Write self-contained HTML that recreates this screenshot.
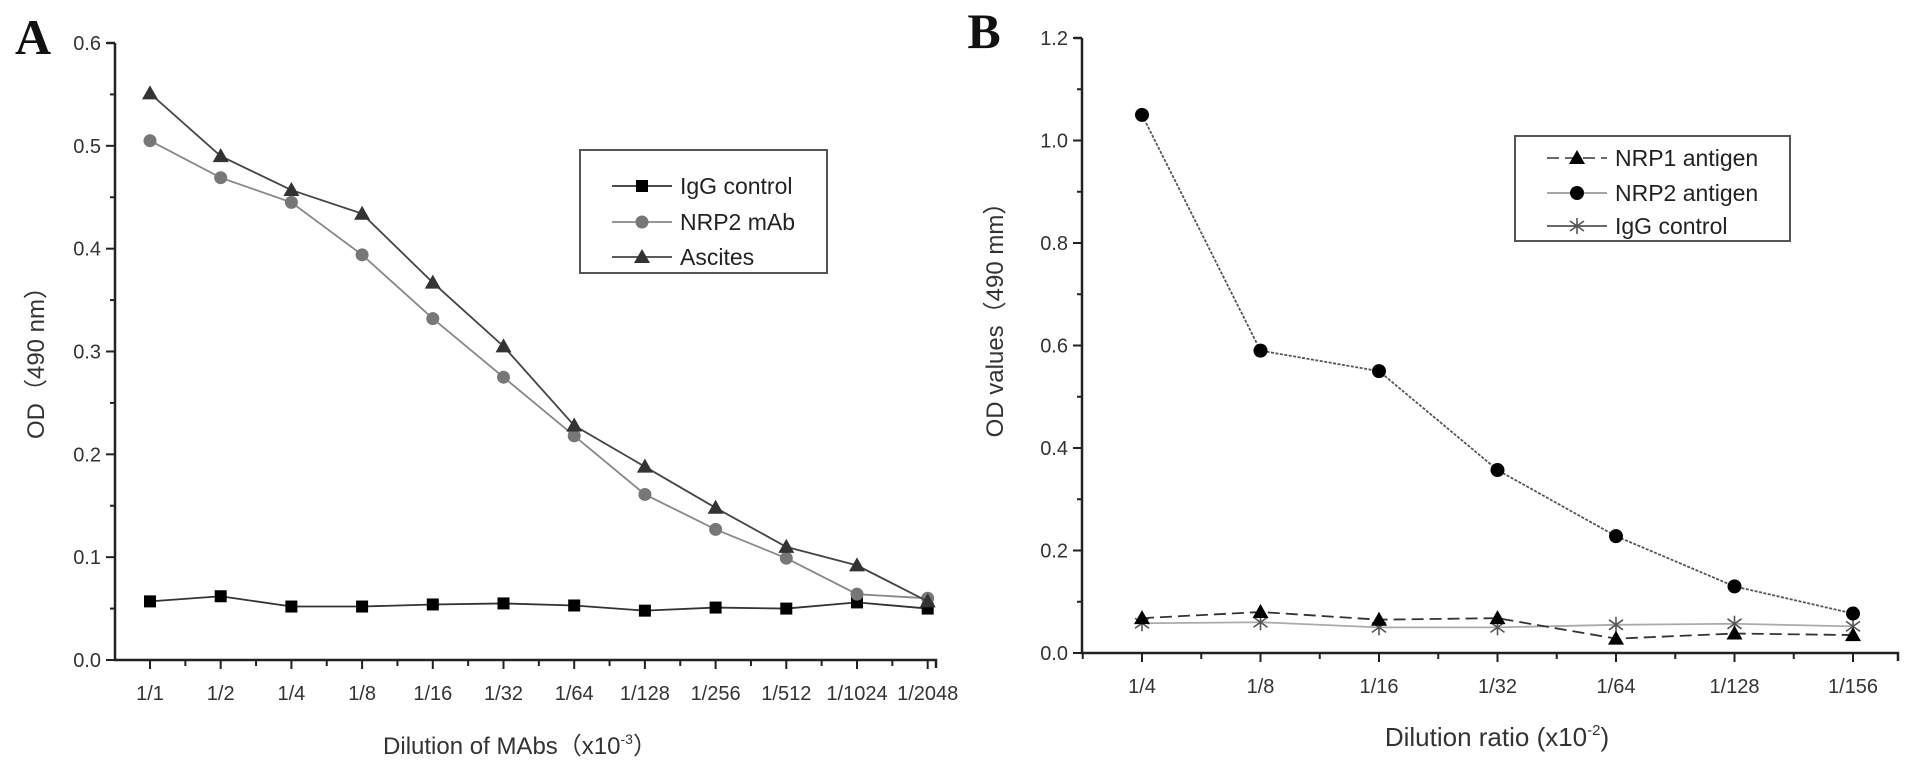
<!DOCTYPE html>
<html><head><meta charset="utf-8"><style>
html,body{margin:0;padding:0;background:#fff;}
svg{display:block;font-family:"Liberation Sans","Noto Sans CJK SC",sans-serif;}
</style></head><body>
<svg id="fig" width="1913" height="767" viewBox="0 0 1913 767">
<text x="33" y="54" font-family="Liberation Serif,serif" font-weight="bold" font-size="50" text-anchor="middle" fill="#111">A</text>
<text x="984" y="48" font-family="Liberation Serif,serif" font-weight="bold" font-size="50" text-anchor="middle" fill="#111">B</text>
<g id="chartA"></g>
<g id="chartB"></g>
</svg>
<script>
const catsA = ["1/1","1/2","1/4","1/8","1/16","1/32","1/64","1/128","1/256","1/512","1/1024","1/2048"];
const iggA = [0.057,0.062,0.052,0.052,0.054,0.055,0.053,0.048,0.051,0.050,0.056,0.050];
const nrp2mAb = [0.505,0.469,0.445,0.394,0.332,0.275,0.218,0.161,0.127,0.099,0.064,0.060];
const ascites = [0.551,0.490,0.457,0.434,0.367,0.305,0.228,0.188,0.148,0.110,0.092,0.057];
const ticksA = ["0.0","0.1","0.2","0.3","0.4","0.5","0.6"];

const catsB = ["1/4","1/8","1/16","1/32","1/64","1/128","1/156"];
const nrp1B = [0.068,0.080,0.065,0.068,0.028,0.038,0.035];
const nrp2B = [1.050,0.590,0.550,0.357,0.228,0.130,0.077];
const iggB = [0.058,0.060,0.050,0.050,0.055,0.057,0.052];
const ticksB = ["0.0","0.2","0.4","0.6","0.8","1.0","1.2"];

const NS="http://www.w3.org/2000/svg";
function mk(parent,tag,attrs){const e=document.createElementNS(NS,tag);for(const k in attrs)e.setAttribute(k,attrs[k]);parent.appendChild(e);return e;}

function axes(g,cfg){
  const {x0,x1,yTop,yBot,vmax,cats,ticks,firstX,step}=cfg;
  const ys=v=>yBot-(v/vmax)*(yBot-yTop);
  const xs=i=>firstX+i*step;
  const ax=mk(g,'path',{d:`M${x0} ${yTop}H${x0-8}M${x0} ${yTop}V${yBot}H${x1}V${yBot+8}`,stroke:'#222','stroke-width':2.5,fill:'none'});
  
  
  const tv=ticks.map(Number), n=tv.length;
  for(let i=0;i<n;i++){
    const y=ys(tv[i]);
    const t=mk(g,'line',{x1:x0-9,x2:x0,y1:y,y2:y,stroke:'#222','stroke-width':2});
    
    
    if(i<n-1){const ym=ys((tv[i]+tv[i+1])/2);const m=mk(g,'line',{x1:x0-5,x2:x0,y1:ym,y2:ym,stroke:'#222','stroke-width':2});}
    const l=mk(g,'text',{x:x0-14,y:y+7,'text-anchor':'end','font-size':20,fill:'#333'});
    l.textContent=ticks[i];
    
    
  }
  for(let i=0;i<cats.length;i++){
    const x=xs(i);
    const t=mk(g,'line',{x1:x,x2:x,y1:yBot,y2:yBot+9,stroke:'#222','stroke-width':2});
    
    
    const xm=x-step/2;
    if(xm>x0){const m=mk(g,'line',{x1:xm,x2:xm,y1:yBot,y2:yBot+6,stroke:'#222','stroke-width':2});}
    const l=mk(g,'text',{x:x,y:yBot+40,'text-anchor':'middle','font-size':20,fill:'#333'});
    l.textContent=cats[i];
    
    
  }
  return {xs,ys};
}
function marker(g,type,x,y,color,name){
  let e;
  if(type==='sq') e=mk(g,'rect',{x:x-6,y:y-6,width:12,height:12,fill:color});
  else if(type==='ci') e=mk(g,'circle',{cx:x,cy:y,r:type==='ci'?6.5:6,fill:color});
  else if(type==='ci2') e=mk(g,'circle',{cx:x,cy:y,r:7,fill:color});
  else if(type==='tri') e=mk(g,'path',{d:`M${x} ${y-8}L${x+8} ${y+6}L${x-8} ${y+6}Z`,fill:color});
  else if(type==='star') e=mk(g,'path',{d:`M${x} ${y-8}V${y+8}M${x-7} ${y-5}L${x+7} ${y+5}M${x-7} ${y+5}L${x+7} ${y-5}`,stroke:color,'stroke-width':1.6,fill:'none'});
  
  
}
function series(g,sc,vals,color,lineColor,type,dash,name){
  const d=vals.map((v,i)=>(i?'L':'M')+sc.xs(i)+' '+sc.ys(v)).join('');
  const p=mk(g,'path',{d:d,stroke:lineColor,'stroke-width':1.8,fill:'none'});
  if(dash)p.setAttribute('stroke-dasharray',dash);
  
  
  vals.forEach((v,i)=>marker(g,type,sc.xs(i),sc.ys(v),color,name+'-point'));
}
function legend(g,x,y,w,h,items,rowYs){
  const r=mk(g,'rect',{x:x,y:y,width:w,height:h,fill:'#fff',stroke:'#555','stroke-width':2});
  
  
  items.forEach((it,i)=>{
    const yy=rowYs[i];
    const l=mk(g,'line',{x1:x+32,x2:x+92,y1:yy,y2:yy,stroke:it.line,'stroke-width':1.8});
    if(it.dash)l.setAttribute('stroke-dasharray',it.dash);
    
    
    marker(g,it.type,x+62,yy,it.color,'legend-marker');
    const t=mk(g,'text',{x:x+100,y:yy+8,'font-size':23,fill:'#222'});
    t.textContent=it.label;
    
    
  });
}
// Chart A
const gA=document.getElementById('chartA');
const scA=axes(gA,{x0:115,x1:936,yTop:43,yBot:660,vmax:0.6,cats:catsA,ticks:ticksA,firstX:150,step:70.7});
series(gA,scA,iggA,'#000','#333','sq',null,'igg-control');
series(gA,scA,nrp2mAb,'#777','#888','ci',null,'nrp2-mab');
series(gA,scA,ascites,'#333','#444','tri',null,'ascites');
legend(gA,580,150,247,123,[
 {label:'IgG control',type:'sq',color:'#000',line:'#333'},
 {label:'NRP2 mAb',type:'ci',color:'#777',line:'#888'},
 {label:'Ascites',type:'tri',color:'#333',line:'#444'}],[186,222,257]);
let t=mk(gA,'text',{x:0,y:0,'font-size':24,fill:'#333','text-anchor':'middle',transform:'translate(44 357) rotate(-90)'});
t.textContent='OD（490 nm）';


t=mk(gA,'text',{x:520,y:754,'font-size':24,fill:'#333','text-anchor':'middle'});
t.innerHTML='Dilution of MAbs（x10<tspan dy="-10" font-size="14">-3</tspan><tspan dy="10">）</tspan>';


// Chart B
const gB=document.getElementById('chartB');
const scB=axes(gB,{x0:1082,x1:1898,yTop:38,yBot:653,vmax:1.2,cats:catsB,ticks:ticksB,firstX:1142,step:118.5});
series(gB,scB,iggB,'#555','#aaa','star',null,'igg-control-b');
series(gB,scB,nrp1B,'#000','#333','tri','12 6','nrp1-antigen');
series(gB,scB,nrp2B,'#000','#555','ci2','3 1.5','nrp2-antigen');
legend(gB,1515,136,275,105,[
 {label:'NRP1 antigen',type:'tri',color:'#000',line:'#555',dash:'12 6'},
 {label:'NRP2 antigen',type:'ci2',color:'#000',line:'#999'},
 {label:'IgG control',type:'star',color:'#555',line:'#555'}],[158,193,226]);
t=mk(gB,'text',{x:0,y:0,'font-size':24,fill:'#333','text-anchor':'middle',transform:'translate(1003 314) rotate(-90)'});
t.textContent='OD values（490 mm）';


t=mk(gB,'text',{x:1497,y:746,'font-size':26,fill:'#333','text-anchor':'middle'});
t.innerHTML='Dilution ratio (x10<tspan dy="-11" font-size="15">-2</tspan><tspan dy="11">)</tspan>';


</script>
</body></html>
